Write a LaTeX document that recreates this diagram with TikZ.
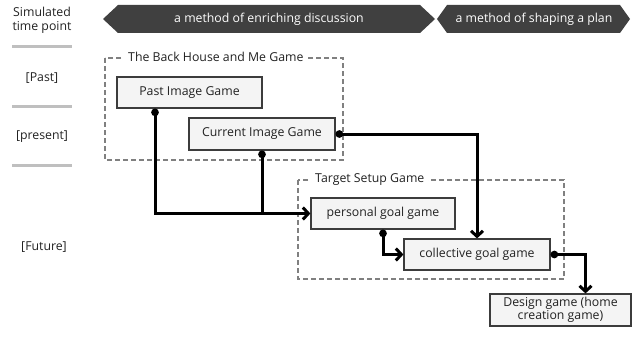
\documentclass[tikz,border=0pt]{standalone}
\usepackage{fontspec}
\setmainfont{Open Sans}
\usetikzlibrary{arrows.meta,calc}
\definecolor{banner}{HTML}{404040}
\definecolor{boxfill}{HTML}{F4F4F4}
\definecolor{boxline}{HTML}{3C3C3C}
\definecolor{dashcol}{HTML}{808080}
\definecolor{sepline}{HTML}{BFBFBF}
\definecolor{txt}{HTML}{222222}
\tikzset{
  gamebox/.style={draw=boxline,fill=boxfill,line width=1.2pt,inner sep=0pt,
    font=\fontsize{12.3}{13.5}\selectfont,text=txt,align=center},
  groupbox/.style={draw=dashcol,line width=1.5pt,dash pattern=on 5pt off 3pt},
  grouptitle/.style={fill=white,inner sep=4pt,anchor=west,font=\fontsize{12.3}{14}\selectfont,text=txt},
  conn/.style={line width=3pt,black},
  link/.style={conn,{Circle[length=7.5pt]}-{Straight Barb[length=5.5pt,width=12pt]}},
  joinlink/.style={conn,{Circle[length=7.5pt]}-},
  sidelabel/.style={font=\fontsize{12.3}{14}\selectfont,text=txt,align=center},
  sepbar/.style={draw=sepline,line width=3pt},
  bannertext/.style={text=white,font=\fontsize{12.3}{14}\selectfont}
}
\begin{document}
\begin{tikzpicture}[x=1pt,y=-1pt]
\useasboundingbox[fill=white] (0,0) rectangle (640,337);

% left column
\node[sidelabel] (simtime) at (42,20) {Simulated\\time point};
\draw[sepbar] (12,47) -- (72,47);
\node[sidelabel] (past-l) at (42,78) {[Past]};
\draw[sepbar] (12,106) -- (72,106);
\node[sidelabel] (present-l) at (42,137) {[present]};
\draw[sepbar] (12,165) -- (72,165);
\node[sidelabel] (future-l) at (44,247) {[Future]};

% banners
\fill[banner] (103,19) -- (118,5) -- (420,5) -- (435,19) -- (420,33) -- (118,33) -- cycle;
\node[bannertext] (b1) at (269,19) {a method of enriching discussion};
\fill[banner] (437,19) -- (447,5) -- (620,5) -- (630,19) -- (620,33) -- (447,33) -- cycle;
\node[bannertext] (b2) at (534,19) {a method of shaping a plan};

% group boxes
\draw[groupbox] (105,58) rectangle (343,160);
\node[grouptitle] (g1) at (124,57) {The Back House and Me Game};
\draw[groupbox] (298,180) rectangle (564,279);
\node[grouptitle] (g2) at (311,180) {Target Setup Game};

% game boxes
\node[gamebox,minimum width=145pt,minimum height=31pt] (past) at (189.5,92.5) {Past Image Game};
\node[gamebox,minimum width=146pt,minimum height=32pt] (current) at (262,134) {Current Image Game};
\node[gamebox,minimum width=144pt,minimum height=31pt] (personal) at (383,213.5) {personal goal game};
\node[gamebox,minimum width=146pt,minimum height=31pt] (collective) at (477,254.5) {collective goal game};
\node[gamebox,minimum width=141pt,minimum height=32pt] (design) at (560.5,310) {Design game (home\\creation game)};

\coordinate (pastdot) at ([xshift=-34.5pt]past.south);
\coordinate (designin) at ([xshift=25pt]design.north);

% connectors
\draw[joinlink] (current.south) -- (current.south |- personal.west);
\draw[link] (pastdot) |- (personal.west);
\draw[link] (current.east) -| (collective.north);
\draw[link] (personal.south) |- (collective.west);
\draw[link] (collective.east) -| (designin);
\end{tikzpicture}
\end{document}
